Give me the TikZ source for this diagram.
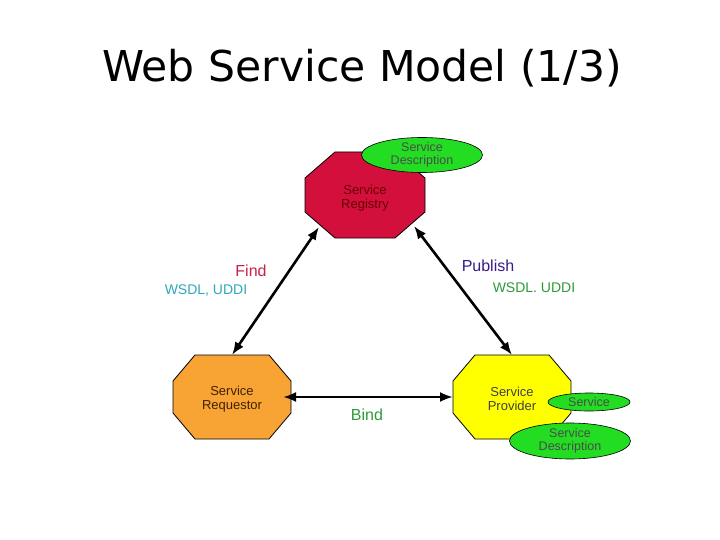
\documentclass[tikz,border=0pt]{standalone}
\usepackage{fontspec}
\setmainfont{Liberation Sans}
\newfontfamily\titlefont{DejaVu Sans}
\usetikzlibrary{shapes.geometric,arrows.meta}
\definecolor{regred}{HTML}{D3103C}
\definecolor{reqorange}{HTML}{F7A434}
\definecolor{provyellow}{HTML}{FFFF00}
\definecolor{ellgreen}{HTML}{22DD22}
\definecolor{findred}{HTML}{C8204A}
\definecolor{wsdlteal}{HTML}{30A8B8}
\definecolor{pubpurple}{HTML}{3A1A8A}
\definecolor{wsdlgreen}{HTML}{2E9A3A}
\tikzset{
  octo/.style={draw=black, line width=0.8pt, line join=miter},
  octotext/.style={align=center, font=\fontsize{13}{14.5}\selectfont},
  ellnode/.style={ellipse, draw=black, line width=0.6pt, fill=ellgreen, inner sep=0pt, align=center, font=\fontsize{12.5}{13}\selectfont, text=black!70},
  conn/.style={line width=2.6pt, {Latex[length=13pt,width=10pt]}-{Latex[length=13pt,width=10pt]}},
  lbl/.style={font=\fontsize{16}{18}\selectfont},
  lblsmall/.style={font=\fontsize{14}{16}\selectfont}
}
\newcommand{\octagon}[6]{% center x, center y, a, b, d, c
  (#1-#3,#2-#6) -- (#1-#5,#2-#4) -- (#1+#5,#2-#4) -- (#1+#3,#2-#6) -- (#1+#3,#2+#6) -- (#1+#5,#2+#4) -- (#1-#5,#2+#4) -- (#1-#3,#2+#6) -- cycle}
\begin{document}
\begin{tikzpicture}[x=1pt,y=-1pt]
\useasboundingbox[fill=white] (0,0) rectangle (720,540);
% title
\node[font=\titlefont\fontsize{42.5}{45}\selectfont] (title) at (362,68) {Web Service Model (1/3)};
% registry
\draw[octo, fill=regred] \octagon{365}{195}{60}{43}{30}{17};
\node[octotext, text=black!40!red!70!black] (reg) at (365,198) {Service\\Registry};
\node[ellnode, minimum width=121pt, minimum height=35pt] (regdesc) at (422,155) {Service\\Description};
% requestor
\draw[octo, fill=reqorange] \octagon{232}{397}{59}{42}{37}{16};
\node[octotext, text=black!75!orange] (req) at (232,399) {Service\\Requestor};
% provider
\draw[octo, fill=provyellow] \octagon{512}{397}{59}{42}{37}{16};
\node[octotext, text=black!75] (prov) at (512,399) {Service\\Provider};
\node[ellnode, minimum width=82pt, minimum height=18pt] (provsvc) at (589,402) {Service};
\node[ellnode, minimum width=121pt, minimum height=36pt] (provdesc) at (570,441) {Service\\Description};
% connector ends
\coordinate (regSW) at (319,227);
\coordinate (regSE) at (414,226);
\coordinate (reqN) at (232,355);
\coordinate (reqE) at (283,397);
\coordinate (provN) at (512,355);
\coordinate (provW) at (453,397);
\draw[conn] (regSW) -- (reqN);
\draw[conn] (regSE) -- (provN);
\draw[conn] (reqE) -- (provW);
% labels
\node[lbl, text=findred] (find) at (251,271) {Find};
\node[lblsmall, text=wsdlteal] (wsdl1) at (206,291) {WSDL, UDDI};
\node[lbl, text=pubpurple] (pub) at (488,266) {Publish};
\node[lblsmall, text=wsdlgreen] (wsdl2) at (534,288) {WSDL. UDDI};
\node[lbl, text=wsdlgreen] (bind) at (367,415) {Bind};
\end{tikzpicture}
\end{document}
